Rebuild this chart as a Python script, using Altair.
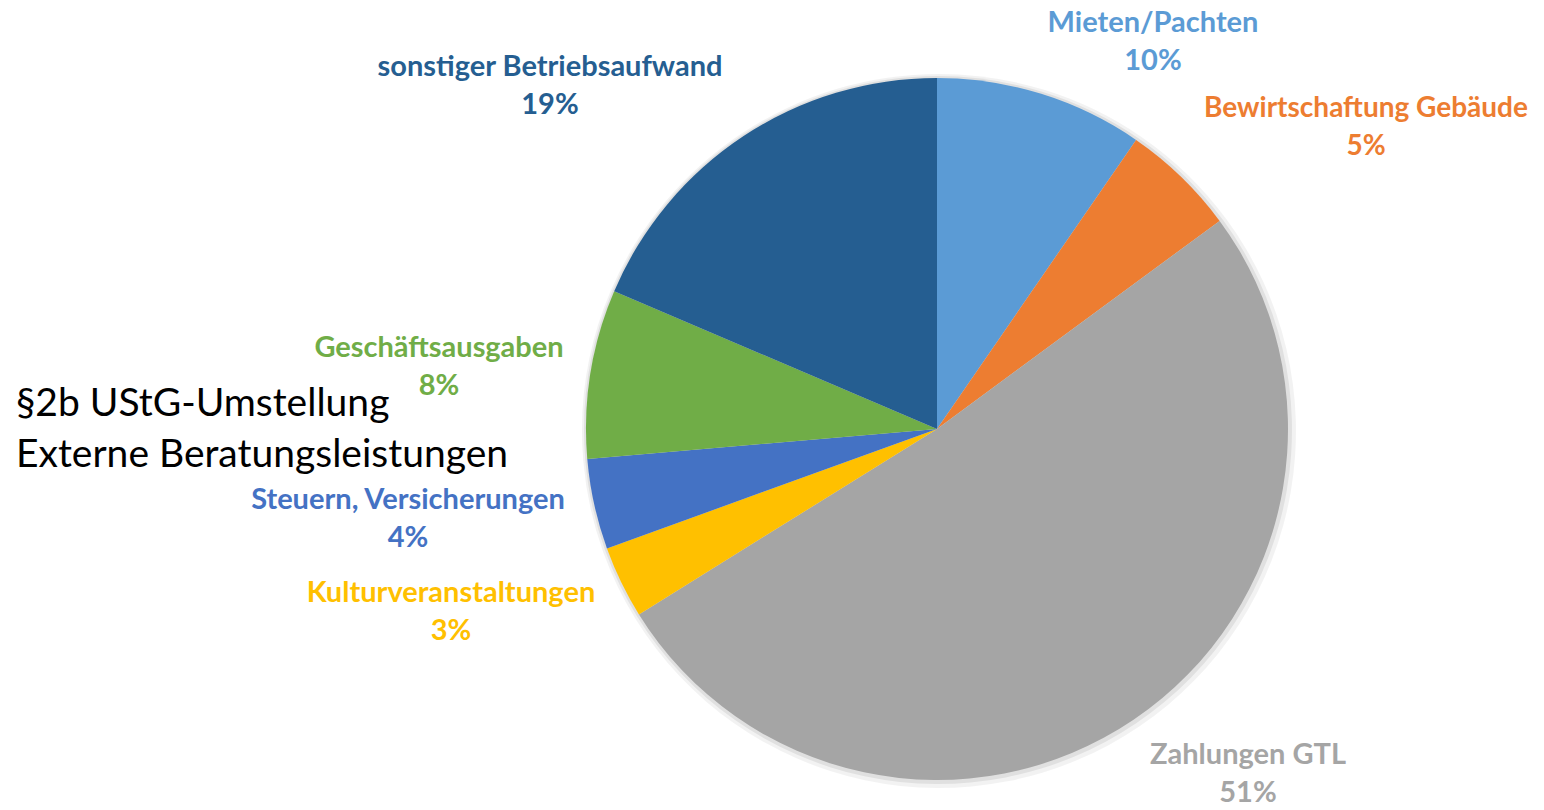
import altair as alt
import pandas as pd

categories = ["Mieten/Pachten", "Bewirtschaftung Gebäude", "Zahlungen GTL",
              "Kulturveranstaltungen", "Steuern, Versicherungen",
              "Geschäftsausgaben", "sonstiger Betriebsaufwand"]
shares = [9.6, 5.3, 51.25, 3.33, 4.17, 7.78, 18.58]
colors = ["#5B9BD5", "#ED7D31", "#A5A5A5", "#FFC000", "#4472C4", "#70AD47", "#255E91"]
pct_labels = ["10%", "5%", "51%", "3%", "4%", "8%", "19%"]
extra_text = ["§2b UStG-Umstellung", "Externe Beratungsleistungen"]

# label layout (annotation positions, chart pixel coords, font size)
label_layout = [(1145, 15, 29), (1358, 101, 28), (1240, 747, 29), (443, 585, 29),
                (400, 492, 29), (431, 340, 29), (542, 59, 29)]

df = pd.DataFrame({"cat": categories, "share": shares, "order": list(range(len(categories)))})

W, H = 1528, 794
CX, CY, R = 929, 421, 351

shadow1 = alt.Chart(df).mark_arc(outerRadius=R + 6, opacity=0.05, color="#000000").encode(
    theta=alt.Theta("share:Q", stack=True), order="order:O",
    x=alt.value(CX + 2), y=alt.value(CY + 2))
shadow2 = alt.Chart(df).mark_arc(outerRadius=R + 3, opacity=0.07, color="#000000").encode(
    theta=alt.Theta("share:Q", stack=True), order="order:O",
    x=alt.value(CX + 1), y=alt.value(CY + 1))

pie = alt.Chart(df).mark_arc(outerRadius=R).encode(
    theta=alt.Theta("share:Q", stack=True),
    order=alt.Order("order:O"),
    color=alt.Color("cat:N", scale=alt.Scale(domain=categories, range=colors), legend=None),
    x=alt.value(CX), y=alt.value(CY),
)

layers = [shadow1, shadow2, pie]
for cat, pct, col, (lx, ly, fs) in zip(categories, pct_labels, colors, label_layout):
    t = alt.Chart(pd.DataFrame({"t": [cat + "\n" + pct]})).mark_text(
        font="Lato", fontWeight="bold", fontSize=fs, color=col, align="center",
        baseline="middle", lineBreak="\n", lineHeight=38,
    ).encode(text="t:N", x=alt.value(lx), y=alt.value(ly))
    layers.append(t)

black = alt.Chart(pd.DataFrame({"t": ["\n".join(extra_text)]})).mark_text(
    font="Lato", fontSize=39, color="#000000", align="left", baseline="middle",
    lineBreak="\n", lineHeight=51,
).encode(text="t:N", x=alt.value(8), y=alt.value(396))
layers.append(black)

chart = alt.layer(*layers).properties(
    width=W, height=H, padding=0, autosize=alt.AutoSizeParams(type="none")
).configure_view(stroke=None)

chart.save("out.html", embed_options={"renderer": "svg", "actions": False})
